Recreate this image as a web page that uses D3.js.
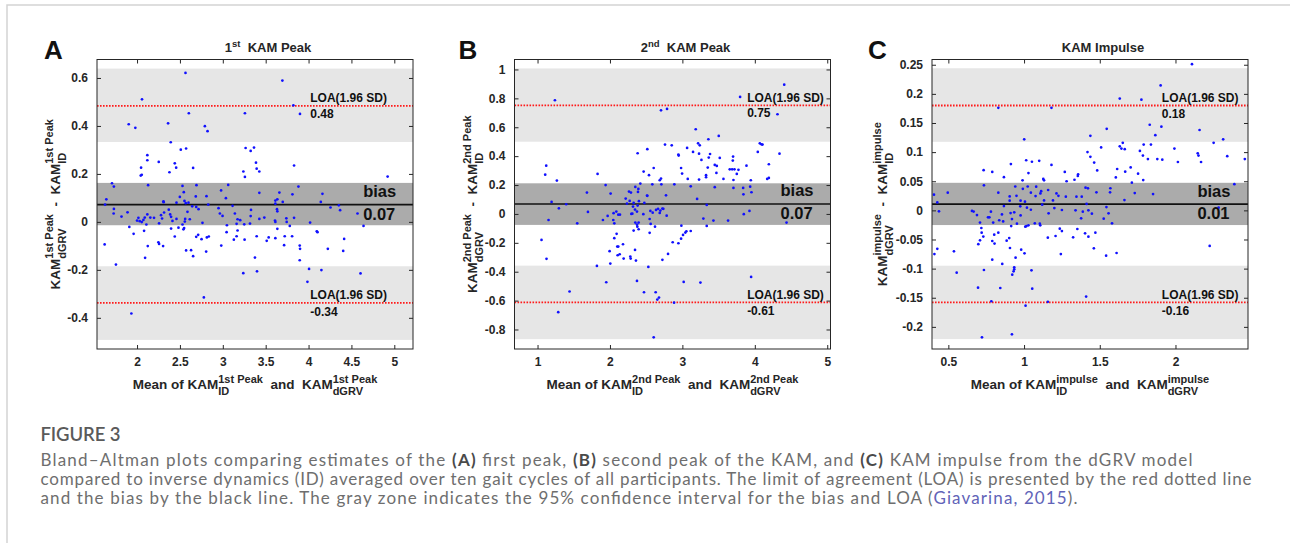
<!DOCTYPE html>
<html>
<head>
<meta charset="utf-8">
<script src="https://cdn.jsdelivr.net/npm/d3@7"></script>
<style>
  body { margin: 0; background: #fff; }
</style>
</head>
<body>
<svg id="fig" width="1290" height="543" font-family="'Liberation Sans', Arial, sans-serif"></svg>
<script>
// ---- data ----
// [mean, difference] pairs
const pointsA = [
  [2.565,0.621],[3.695,0.589],[2.058,0.511],[3.823,0.486],[2.604,0.453],[3.258,0.453],[3.90,0.45],
  [1.903,0.407],[1.98,0.392],[2.362,0.411],[2.791,0.399],[2.822,0.378],[2.393,0.332],[2.51,0.301],
  [2.572,0.306],[3.266,0.308],[3.325,0.296],[3.364,0.31],[2.12,0.278],[2.12,0.257],[2.253,0.25],
  [2.44,0.244],[2.456,0.226],[2.047,0.226],[2.378,0.207],[2.654,0.225],[3.387,0.247],[3.395,0.222],
  [3.426,0.21],[3.24,0.21],[3.258,0.1875],[3.831,0.235],[2.043,0.193],[2.055,0.196],[4.922,0.189],
  [1.708,0.161],[1.73,0.147],[2.129,0.153],[2.53,0.15],[2.693,0.153],[3.063,0.154],[3.882,0.147],
  [4.162,0.117],[3.426,0.121],[3.66,0.122],[3.812,0.115],[2.545,0.124],[2.98,0.131],[1.642,0.094],
  [2.499,0.104],[2.685,0.106],[2.81,0.107],[3.036,0.099],[2.308,0.086],[2.31,0.082],[2.553,0.0875],
  [2.568,0.078],[2.46,0.08],[2.6,0.08],[3.613,0.089],[3.636,0.094],[3.613,0.076],[3.699,0.083],
  [4.143,0.083],[4.353,0.069],[1.627,0.072],[1.73,0.054],[1.727,0.035],[2.37,0.051],[2.643,0.065],
  [2.69,0.0625],[2.717,0.053],[2.83,0.072],[3.114,0.067],[3.329,0.05],[3.632,0.053],[3.636,0.044],
  [4.256,0.06],[4.368,0.049],[4.571,0.035],[1.819,0.022],[1.889,0.04],[2.0,0.0056],[2.016,0.017],
  [2.031,0.003],[2.055,-0.001],[2.074,0.008],[2.09,0.018],[2.12,0.031],[2.155,0.018],[2.198,0.017],
  [2.257,-0.006],[2.28,0.028],[2.292,0.014],[2.315,0.039],[2.386,0.031],[2.397,0.021],[2.413,0.004],
  [2.46,0.0125],[2.561,0.0125],[2.53,-0.011],[2.549,-0.026],[2.557,0.0014],[2.615,0.011],[2.588,0.042],
  [2.763,-0.004],[2.95,0.057],[2.966,0.035],[2.997,0.025],[3.141,0.035],[3.172,0.011],[3.203,0.007],
  [3.161,-0.008],[3.25,-0.01],[3.317,-0.007],[3.325,0.024],[3.426,0.0125],[3.484,0.018],[3.609,0.0056],
  [3.613,0.0],[3.741,0.015],[3.745,0.0],[3.831,0.017],[4.018,-0.003],[3.048,-0.014],[1.91,-0.021],
  [1.96,-0.05],[2.082,-0.0375],[2.109,-0.011],[2.397,-0.028],[2.483,-0.024],[2.541,-0.031],[2.44,-0.061],
  [2.69,-0.0625],[2.713,-0.054],[2.752,-0.072],[2.814,-0.065],[2.837,-0.061],[3.044,-0.043],[3.172,-0.036],
  [3.129,-0.074],[3.161,-0.06],[3.254,-0.074],[3.395,-0.06],[3.512,-0.079],[3.535,-0.065],[3.636,-0.029],
  [3.613,-0.068],[3.722,-0.06],[3.808,-0.06],[3.781,-0.017],[4.096,-0.039],[4.104,-0.043],[4.415,-0.071],
  [4.641,-0.017],[1.622,-0.094],[2.249,-0.085],[2.257,-0.092],[2.304,-0.101],[2.125,-0.101],[2.982,-0.099],
  [3.715,-0.097],[3.897,-0.099],[3.901,-0.1125],[4.225,-0.1125],[4.404,-0.121],[2.572,-0.119],[2.63,-0.118],
  [2.806,-0.124],[2.654,-0.143],[2.094,-0.15],[3.375,-0.149],[3.897,-0.16],[1.754,-0.178],[4.006,-0.196],
  [4.15,-0.201],[3.399,-0.206],[3.239,-0.214],[4.606,-0.215],[3.987,-0.25],[2.779,-0.315],[1.934,-0.382]
];
const pointsB = [
  [4.406,0.895],[3.797,0.81],[1.24,0.787],[2.705,0.717],[2.788,0.727],[4.313,0.69],[3.184,0.586],
  [3.502,0.54],[3.359,0.517],[3.217,0.489],[3.24,0.475],[2.76,0.48],[2.853,0.475],[2.516,0.448],
  [4.069,0.489],[4.092,0.482],[4.106,0.48],[4.041,0.429],[4.341,0.417],[3.065,0.457],[3.147,0.429],
  [3.23,0.417],[2.382,0.42],[2.945,0.411],[2.949,0.404],[3.263,0.374],[3.382,0.415],[3.364,0.39],
  [3.516,0.388],[3.7,0.397],[3.696,0.369],[3.885,0.334],[4.194,0.344],[2.982,0.318],[3.35,0.321],
  [3.447,0.339],[3.475,0.332],[3.654,0.309],[3.687,0.309],[3.719,0.309],[3.774,0.305],[1.12,0.334],
  [2.604,0.318],[2.465,0.293],[2.996,0.279],[3.47,0.284],[3.751,0.277],[1.106,0.272],[1.829,0.277],
  [2.539,0.268],[3.327,0.254],[3.327,0.268],[2.705,0.245],[3.074,0.242],[2.687,0.233],[3.23,0.238],
  [3.567,0.242],[3.705,0.235],[3.945,0.233],[4.194,0.249],[4.171,0.242],[1.267,0.231],[2.419,0.21],
  [1.94,0.2],[2.35,0.187],[2.585,0.205],[2.71,0.205],[2.889,0.205],[3.115,0.191],[3.447,0.185],
  [3.705,0.18],[3.839,0.18],[3.936,0.189],[1.682,0.148],[2.009,0.141],[2.263,0.155],[2.29,0.148],
  [2.392,0.173],[2.387,0.152],[2.512,0.127],[2.516,0.125],[2.774,0.129],[3.843,0.136],[3.954,0.15],
  [2.217,0.106],[2.272,0.09],[3.203,0.104],[2.4,0.088],[3.336,0.062],[1.194,0.083],[1.295,0.039],
  [1.396,0.067],[2.318,0.051],[2.382,0.058],[2.235,0.072],[2.327,0.076],[2.346,0.03],[2.475,0.076],
  [1.696,0.014],[2.088,0.016],[2.115,-0.005],[2.138,-0.005],[2.05,0.005],[1.968,-0.014],[2.295,0.0],
  [2.309,0.002],[2.373,0.016],[2.461,-0.002],[2.558,0.021],[2.59,0.009],[2.636,0.028],[2.664,0.035],
  [2.696,0.023],[2.724,0.037],[2.737,0.035],[2.687,0.007],[2.783,-0.012],[1.152,-0.042],[1.903,-0.042],
  [2.046,-0.042],[2.06,-0.065],[1.548,-0.065],[2.35,-0.06],[2.373,-0.074],[2.396,-0.06],[2.548,-0.035],
  [2.562,-0.069],[2.622,-0.088],[3.29,-0.032],[3.429,-0.046],[3.336,-0.083],[3.631,-0.046],[3.848,-0.002],
  [3.926,0.021],[4.438,-0.06],[2.986,-0.081],[2.378,-0.088],[2.396,-0.106],[2.327,-0.115],[2.548,-0.131],
  [2.092,-0.138],[3.041,-0.129],[3.009,-0.145],[3.055,-0.12],[3.115,-0.118],[2.982,-0.171],[1.055,-0.18],
  [2.06,-0.168],[2.101,-0.226],[2.18,-0.21],[2.866,-0.196],[2.945,-0.203],[2.115,-0.226],[1.995,-0.258],
  [2.134,-0.279],[2.106,-0.286],[2.281,-0.295],[2.346,-0.249],[2.802,-0.277],[2.189,-0.309],[2.286,-0.309],
  [2.359,-0.323],[2.724,-0.318],[1.124,-0.311],[2.005,-0.344],[1.82,-0.36],[2.53,-0.367],[3.949,-0.436],
  [1.949,-0.473],[2.373,-0.464],[3.018,-0.471],[3.249,-0.475],[1.442,-0.537],[2.47,-0.542],[2.631,-0.542],
  [2.654,-0.593],[2.677,-0.579],[2.885,-0.614],[1.286,-0.68],[2.604,-0.854]
];
const pointsC = [
  [2.109,0.251],[1.902,0.2145],[1.632,0.192],[1.775,0.19],[0.83,0.176],[1.181,0.176],[1.83,0.147],
  [1.907,0.1436],[1.546,0.14],[2.159,0.138],[1.438,0.128],[1.867,0.129],[1.001,0.122],[2.315,0.122],
  [1.79,0.113],[1.838,0.113],[2.252,0.116],[1.652,0.116],[1.632,0.11],[1.643,0.106],[1.665,0.105],
  [1.509,0.108],[1.419,0.1],[1.765,0.102],[1.993,0.106],[1.438,0.092],[1.785,0.094],[2.147,0.098],
  [2.152,0.094],[2.342,0.093],[1.818,0.088],[1.88,0.088],[1.913,0.087],[2.458,0.088],[1.014,0.086],
  [1.1,0.085],[1.052,0.0835],[1.463,0.082],[2.016,0.083],[2.169,0.083],[0.913,0.0795],[1.181,0.078],
  [1.483,0.0686],[1.704,0.0738],[1.615,0.071],[1.668,0.0664],[0.733,0.069],[0.79,0.066],[1.269,0.066],
  [1.029,0.064],[1.753,0.063],[1.357,0.062],[1.355,0.059],[1.606,0.0566],[0.867,0.057],[0.99,0.0515],
  [1.127,0.054],[1.132,0.0515],[1.281,0.05],[1.333,0.0526],[1.787,0.052],[1.712,0.0475],[2.389,0.045],
  [0.735,0.043],[0.942,0.041],[1.024,0.041],[1.08,0.0406],[1.406,0.039],[1.422,0.0378],[1.57,0.038],
  [0.992,0.037],[1.159,0.035],[1.113,0.033],[0.95,0.025],[0.905,0.024],[0.83,0.0303],[1.045,0.0303],
  [1.108,0.029],[1.214,0.029],[1.478,0.031],[1.568,0.031],[1.731,0.0297],[1.852,0.028],[0.496,0.0303],
  [0.405,0.027],[1.227,0.025],[1.276,0.0235],[1.346,0.0235],[1.381,0.0235],[1.076,0.0246],[1.132,0.017],
  [1.191,0.017],[0.977,0.0166],[1.006,0.015],[0.905,0.0166],[0.427,0.0137],[1.663,0.0177],[1.413,0.011],
  [1.12,0.0097],[2.285,0.0046],[0.867,0.0074],[0.975,0.0069],[1.544,0.0057],[1.019,0.0046],[1.2,0.004],
  [0.935,-0.0034],[1.045,0.0011],[1.25,0.0006],[1.34,0.0],[1.425,0.0],[1.388,-0.0023],[0.656,-0.001],
  [0.667,-0.002],[0.438,-0.0017],[0.911,-0.0046],[0.854,-0.0069],[1.162,-0.005],[1.448,-0.0057],
  [1.558,-0.005],[0.781,-0.0023],[0.977,-0.0086],[0.689,-0.008],[0.762,-0.012],[0.771,-0.012],
  [0.709,-0.021],[0.796,-0.021],[0.836,-0.017],[0.862,-0.019],[0.92,-0.0149],[0.953,-0.0229],[1.008,-0.028],
  [1.016,-0.027],[1.029,-0.0257],[1.071,-0.0223],[1.104,-0.0229],[1.107,-0.0257],[0.915,-0.027],
  [1.377,-0.0137],[1.526,-0.0143],[1.581,-0.0223],[0.718,-0.0303],[1.236,-0.0315],[1.25,-0.0355],
  [1.352,-0.032],[0.72,-0.0383],[0.83,-0.0383],[1.403,-0.0395],[1.471,-0.0383],[0.731,-0.045],
  [0.803,-0.0418],[1.157,-0.0469],[1.208,-0.044],[1.324,-0.0463],[1.425,-0.0452],[0.709,-0.0515],
  [0.698,-0.058],[0.79,-0.0526],[0.805,-0.057],[0.885,-0.052],[0.902,-0.0475],[0.427,-0.066],[0.408,-0.075],
  [0.537,-0.0704],[0.907,-0.0646],[0.981,-0.0675],[1.003,-0.0738],[1.243,-0.075],[1.461,-0.0652],
  [1.542,-0.0778],[1.611,-0.0732],[0.79,-0.0847],[0.944,-0.0812],[0.856,-0.092],[0.935,-0.0978],
  [0.935,-0.1013],[0.931,-0.1047],[0.555,-0.107],[0.735,-0.1024],[1.049,-0.103],[0.922,-0.1104],
  [0.696,-0.1327],[0.843,-0.1333],[1.054,-0.1344],[1.41,-0.148],[0.784,-0.156],[1.157,-0.157],
  [1.01,-0.1636],[0.92,-0.2128],[0.722,-0.218],[2.226,-0.061]
];

const panelLetters = ["A", "B", "C"];
const panelTitles = [["1", "st", "  KAM Peak"], ["2", "nd", "  KAM Peak"], ["", "", "KAM Impulse"]];
const measureTags = ["1st Peak", "2nd Peak", "impulse"];

const xDomains = [[1.533, 5.218], [0.682, 5.045], [0.392, 2.479]];
const yDomains = [[-0.53, 0.677], [-0.935, 1.069], [-0.238, 0.259]];
const xTicks = [[2, 2.5, 3, 3.5, 4, 4.5, 5], [1, 2, 3, 4, 5], [0.5, 1, 1.5, 2]];
const yTicks = [
  [-0.4, -0.2, 0, 0.2, 0.4, 0.6],
  [-0.8, -0.6, -0.4, -0.2, 0, 0.2, 0.4, 0.6, 0.8, 1],
  [-0.2, -0.15, -0.1, -0.05, 0, 0.05, 0.1, 0.15, 0.2, 0.25]
];

const biasValues = [0.072, 0.069, 0.0108];
const loaUpper = [0.484, 0.752, 0.18];
const loaLower = [-0.338, -0.612, -0.158];
const biasBands = [[-0.014, 0.1625], [-0.076, 0.212], [-0.0252, 0.0473]];
const upperBands = [[0.333, 0.639], [0.5, 1.007], [0.1177, 0.244]];
const lowerBands = [[-0.492, -0.185], [-0.867, -0.358], [-0.221, -0.095]];
// x positions (data units) where the annotations start
const loaTextX = [4.02, 3.894, 1.91];
const biasTextX = [4.637, 4.355, 2.145];

// ---- layout ----
const axLeft = [97, 514.5, 932];
const axTop = 59.5, axW = 316, axH = 289.5;
const yLabelOffset = [37.5, 37.5, 44.7];
const letterOffset = [53, 56, 64];

const svg = d3.select("#fig");
const ink = "#262626";
const fmt = d => String(+d.toFixed(2));

// page frame
svg.append("path")
  .attr("d", "M7,543 V5 H1290")
  .attr("fill", "none")
  .attr("stroke", "#d3d3d3")
  .attr("stroke-width", 1.5);

// text with stacked super/subscripts
function mathLabel(g, parts, size, small, supUp, subDown) {
  const inner = g.append("g");
  let cx = 0;
  parts.forEach(p => {
    if (p.t !== undefined) {
      const t = inner.append("text")
        .attr("x", cx).attr("y", 0)
        .attr("font-size", size).attr("font-weight", "bold")
        .attr("fill", ink)
        .style("white-space", "pre")
        .text(p.t);
      cx += t.node().getComputedTextLength();
    } else {
      let w = 0;
      if (p.sup) {
        const t = inner.append("text")
          .attr("x", cx).attr("y", -supUp)
          .attr("font-size", small).attr("font-weight", "bold")
          .attr("fill", ink).style("white-space", "pre")
          .text(p.sup);
        w = Math.max(w, t.node().getComputedTextLength());
      }
      if (p.sub) {
        const t = inner.append("text")
          .attr("x", cx).attr("y", subDown)
          .attr("font-size", small).attr("font-weight", "bold")
          .attr("fill", ink).style("white-space", "pre")
          .text(p.sub);
        w = Math.max(w, t.node().getComputedTextLength());
      }
      cx += w;
    }
  });
  inner.attr("transform", `translate(${-cx / 2},0)`);
  return cx;
}

panelLetters.forEach((letter, i) => {
  const left = axLeft[i];
  const x = d3.scaleLinear().domain(xDomains[i]).range([left, left + axW]);
  const y = d3.scaleLinear().domain(yDomains[i]).range([axTop + axH, axTop]);
  const g = svg.append("g");
  const clipId = "clip" + letter;

  g.append("clipPath").attr("id", clipId)
    .append("rect")
    .attr("x", left).attr("y", axTop)
    .attr("width", axW).attr("height", axH);

  const plot = g.append("g").attr("clip-path", `url(#${clipId})`);

  // confidence bands
  [[upperBands[i], "#e6e6e6"], [lowerBands[i], "#e6e6e6"], [biasBands[i], "#ababab"]]
    .forEach(([b, col]) => {
      plot.append("rect")
        .attr("x", left).attr("width", axW)
        .attr("y", y(b[1])).attr("height", y(b[0]) - y(b[1]))
        .attr("fill", col);
    });

  // limits of agreement
  [loaUpper[i], loaLower[i]].forEach(v => {
    plot.append("line")
      .attr("x1", left).attr("x2", left + axW)
      .attr("y1", y(v)).attr("y2", y(v))
      .attr("stroke", "#ff1a1a")
      .attr("stroke-width", 1.8)
      .attr("stroke-dasharray", "1.6,1.4");
  });

  // bias
  plot.append("line")
    .attr("x1", left).attr("x2", left + axW)
    .attr("y1", y(biasValues[i])).attr("y2", y(biasValues[i]))
    .attr("stroke", "#111")
    .attr("stroke-width", 1.6);

  // points
  const pts = [pointsA, pointsB, pointsC][i];
  plot.selectAll("circle")
    .data(pts)
    .join("circle")
    .attr("cx", d => x(d[0]))
    .attr("cy", d => y(d[1]))
    .attr("r", 1.35)
    .attr("fill", "#1010ff");

  // axes with inward ticks
  const axB = g.append("g").attr("transform", `translate(0,${axTop + axH})`)
    .call(d3.axisBottom(x).tickValues(xTicks[i]).tickSize(-4).tickPadding(8).tickFormat(fmt));
  const axT = g.append("g").attr("transform", `translate(0,${axTop})`)
    .call(d3.axisTop(x).tickValues(xTicks[i]).tickSize(-4).tickFormat(""));
  const axL = g.append("g").attr("transform", `translate(${left},0)`)
    .call(d3.axisLeft(y).tickValues(yTicks[i]).tickSize(-4).tickPadding(9).tickFormat(fmt));
  const axR = g.append("g").attr("transform", `translate(${left + axW},0)`)
    .call(d3.axisRight(y).tickValues(yTicks[i]).tickSize(-4).tickFormat(""));
  [axB, axT, axL, axR].forEach(a => {
    a.select(".domain").remove();
    a.selectAll("line").attr("stroke", ink);
    a.selectAll("text")
      .attr("fill", ink)
      .attr("font-size", 12)
      .attr("font-weight", "bold")
      .attr("font-family", "'Liberation Sans', Arial, sans-serif");
  });

  g.append("rect")
    .attr("x", left).attr("y", axTop)
    .attr("width", axW).attr("height", axH)
    .attr("fill", "none")
    .attr("stroke", ink)
    .attr("stroke-width", 1);

  // annotations
  const ann = g.append("g")
    .attr("fill", "#111")
    .attr("font-weight", "bold");
  ann.append("text")
    .attr("x", x(loaTextX[i])).attr("y", y(loaUpper[i]) - 3.5)
    .attr("font-size", 12).text("LOA(1.96 SD)");
  ann.append("text")
    .attr("x", x(loaTextX[i])).attr("y", y(loaUpper[i]) + 12)
    .attr("font-size", 12).text(loaUpper[i].toFixed(2));
  ann.append("text")
    .attr("x", x(loaTextX[i])).attr("y", y(loaLower[i]) - 3.5)
    .attr("font-size", 12).text("LOA(1.96 SD)");
  ann.append("text")
    .attr("x", x(loaTextX[i])).attr("y", y(loaLower[i]) + 13)
    .attr("font-size", 12).text(loaLower[i].toFixed(2));
  ann.append("text")
    .attr("x", x(biasTextX[i])).attr("y", y(biasValues[i]) - 7.5)
    .attr("font-size", 16.5).text("bias");
  ann.append("text")
    .attr("x", x(biasTextX[i])).attr("y", y(biasValues[i]) + 15)
    .attr("font-size", 16.5).text(biasValues[i].toFixed(2));

  // panel letter
  svg.append("text")
    .attr("x", left - letterOffset[i]).attr("y", 59)
    .attr("font-size", 26).attr("font-weight", "bold")
    .attr("fill", "#111")
    .text(letter);

  // title
  const tt = panelTitles[i];
  const titleG = svg.append("g").attr("transform", `translate(${left + axW / 2 + 13},52)`);
  const titleParts = tt[0] ? [{ t: tt[0] }, { sup: tt[1] }, { t: tt[2] }] : [{ t: tt[2] }];
  mathLabel(titleG, titleParts, 13, 9.5, 5.5, 0);

  // x label
  const tag = measureTags[i];
  const xg = svg.append("g").attr("transform", `translate(${left + axW / 2},389)`);
  mathLabel(xg, [
    { t: "Mean of KAM" }, { sup: tag, sub: "ID" },
    { t: "  and  KAM" }, { sup: tag, sub: "dGRV" }
  ], 13.5, 11, 6.5, 6);

  // y label
  const yg = svg.append("g")
    .attr("transform", `translate(${left - yLabelOffset[i]},${axTop + axH / 2}) rotate(-90)`);
  mathLabel(yg, [
    { t: "KAM" }, { sup: tag, sub: "dGRV" },
    { t: "  -  KAM" }, { sup: tag, sub: "ID" }
  ], 13.5, 11, 6.5, 6);
});

// ---- caption ----
const capFont = "Lato, 'Open Sans', sans-serif";
const capGrey = "#6e6e6e";
svg.append("text")
  .attr("x", 40.5).attr("y", 440.7)
  .style("font-family", capFont)
  .attr("font-size", 18.5)
  .attr("font-weight", 600)
  .attr("fill", "#5a5a5a")
  .attr("textLength", 80)
  .attr("lengthAdjust", "spacing")
  .text("FIGURE 3");

const captionLines = [
  [["Bland\u2013Altman plots comparing estimates of the ", 0], ["(A)", 1], [" first peak, ", 0], ["(B)", 1],
   [" second peak of the KAM, and ", 0], ["(C)", 1], [" KAM impulse from the dGRV model", 0]],
  [["compared to inverse dynamics (ID) averaged over ten gait cycles of all participants. The limit of agreement (LOA) is presented by the red dotted line", 0]],
  [["and the bias by the black line. The gray zone indicates the 95% confidence interval for the bias and LOA (", 0],
   ["Giavarina, 2015", 2], [").", 0]]
];
const captionBaselines = [465.7, 485, 504.2];
const captionWidths = [1152, 1211, 1037];
captionLines.forEach((line, li) => {
  const t = svg.append("text")
    .attr("x", 40.5).attr("y", captionBaselines[li])
    .style("font-family", capFont)
    .attr("font-size", 17)
    .attr("fill", capGrey)
    .attr("textLength", captionWidths[li])
    .attr("lengthAdjust", "spacing")
    .style("white-space", "pre");
  line.forEach(([s, kind]) => {
    const sp = t.append("tspan").text(s);
    if (kind === 1) sp.attr("font-weight", "bold").attr("fill", "#4a4a4a");
    if (kind === 2) sp.attr("fill", "#6163b8");
  });
});
</script>
</body>
</html>
